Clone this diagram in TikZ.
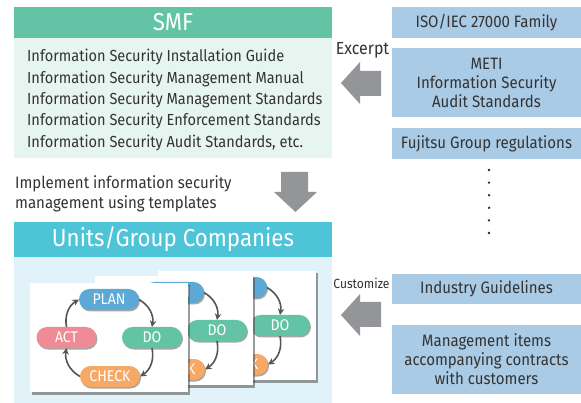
\documentclass[tikz,border=0pt]{standalone}
\usepackage{fontspec}
\setmainfont[FakeStretch=0.91]{Fira Sans}
\usetikzlibrary{arrows.meta,shadows,calc}
\definecolor{smfgreen}{HTML}{63C4A5}
\definecolor{smfbody}{HTML}{E7F5F0}
\definecolor{unitcyan}{HTML}{4EC4D8}
\definecolor{unitbody}{HTML}{E1F3F8}
\definecolor{srcblue}{HTML}{AACBE6}
\definecolor{arrgray}{HTML}{939598}
\definecolor{txt}{HTML}{333333}
\definecolor{planc}{HTML}{5CA8D6}
\definecolor{doc}{HTML}{63C4A5}
\definecolor{actc}{HTML}{EF8B95}
\definecolor{checkc}{HTML}{F6A864}
\definecolor{cyclec}{HTML}{555555}
\tikzset{
  rbox/.style={inner sep=0pt, outer sep=0pt, anchor=center},
  srcbox/.style={rbox, fill=srcblue, minimum width=189pt, text=txt, font=\fontsize{16.5}{19}\selectfont, align=center},
  hdr/.style={rbox, minimum width=318pt, text=white, font=\fontsize{24.5}{28}\selectfont},
  blockarrow/.style={fill=arrgray, draw=none},
  pill/.style={rbox, rounded corners=10.5pt, minimum width=60pt, minimum height=21pt, text=white, font=\fontsize{15.5}{17}\selectfont, drop shadow={shadow xshift=1pt, shadow yshift=-1.5pt, opacity=0.35, fill=black}},
  card/.style={fill=white, draw=none, drop shadow={shadow xshift=2pt, shadow yshift=-2.5pt, opacity=0.55, fill=black!70}},
  cyc/.style={draw=cyclec, line width=1.6pt, -{Stealth[length=6.5pt,width=6.5pt]}},
  plaintext/.style={inner sep=0pt, text=txt, anchor=west}
}
\newcommand{\pdcacard}[3]{%
  \begin{scope}[shift={(#1,#2)}, name prefix=#3-]
    \path[card] (30,283) rectangle (188,392);
    \node[pill, fill=planc] (plan) at (109,299.5) {PLAN};
    \node[pill, fill=doc] (do) at (152,337.5) {DO};
    \node[pill, fill=checkc] (check) at (110,376.5) {CHECK};
    \node[pill, fill=actc] (act) at (66.5,337.5) {ACT};
    \draw[cyc] (plan.east) to[bend left=35] (do.north);
    \draw[cyc] (do.south) to[bend left=35] (check.east);
    \draw[cyc] (check.west) to[bend left=35] (act.south);
    \draw[cyc] (act.north) to[bend left=35] (plan.west);
  \end{scope}}
\begin{document}
\begin{tikzpicture}[x=1pt,y=-1pt]
\useasboundingbox[fill=white] (0,0) rectangle (581,403);
% SMF
\node[hdr, fill=smfgreen, minimum height=31pt] (smf) at (173,22.5) {SMF};
\node[rbox, fill=smfbody, minimum width=318pt, minimum height=120pt] (smfbody) at (173,98) {};
\node[plaintext, font=\fontsize{16}{21.3}\selectfont, align=left, anchor=west] (smflist) at (27,100)
 {Information Security Installation Guide\\
  Information Security Management Manual\\
  Information Security Management Standards\\
  Information Security Enforcement Standards\\
  Information Security Audit Standards, etc.};
% right sources
\node[srcbox, minimum height=31pt] (iso) at (486.5,22.5) {ISO/IEC 27000 Family};
\node[srcbox, minimum height=69pt] (meti) at (486.5,82.5) {METI\\Information Security\\Audit Standards};
\node[srcbox, minimum height=31pt] (fuji) at (486.5,143.5) {Fujitsu Group regulations};
\foreach \i/\yy in {1/170,2/182.6,3/195.2,4/207.8,5/220.4,6/233}
  \fill[black!85] (489,\yy) circle (1.3pt) coordinate (dot\i);
% Excerpt arrow
\node[plaintext, font=\fontsize{17.5}{20}\selectfont, anchor=center] (excerpt) at (362.5,50.5) {Excerpt};
\path[blockarrow] (381,71) -- (360,71) -- (360,62) -- (341,83) -- (360,104) -- (360,96) -- (381,96) -- cycle;
% implement
\node[plaintext, font=\fontsize{16.5}{20}\selectfont, align=left] (impl) at (15,194) {Implement information security\\management using templates};
\path[blockarrow] (281,172) -- (308,172) -- (308,192) -- (317,192) -- (295.5,212) -- (274,192) -- (281,192) -- cycle;
% Units
\node[hdr, fill=unitcyan, minimum height=35pt] (units) at (173,239.5) {Units/Group Companies};
\node[rbox, fill=unitbody, minimum width=318pt, minimum height=146pt] (unitbody) at (173,330) {};
\pdcacard{128}{-12}{c3}
\pdcacard{65}{-7}{c2}
\pdcacard{0}{0}{c1}
% Customize
\node[plaintext, font=\fontsize{13.3}{15}\selectfont, anchor=center] (cust) at (361.5,283) {Customize};
\path[blockarrow] (381,302) -- (360,302) -- (360,294) -- (341,315) -- (360,336) -- (360,327) -- (381,327) -- cycle;
\node[srcbox, minimum height=30pt] (ind) at (486.5,289) {Industry Guidelines};
\node[srcbox, minimum height=69pt] (mgmt) at (486.5,359.5) {Management items\\accompanying contracts\\with customers};
\end{tikzpicture}
\end{document}
